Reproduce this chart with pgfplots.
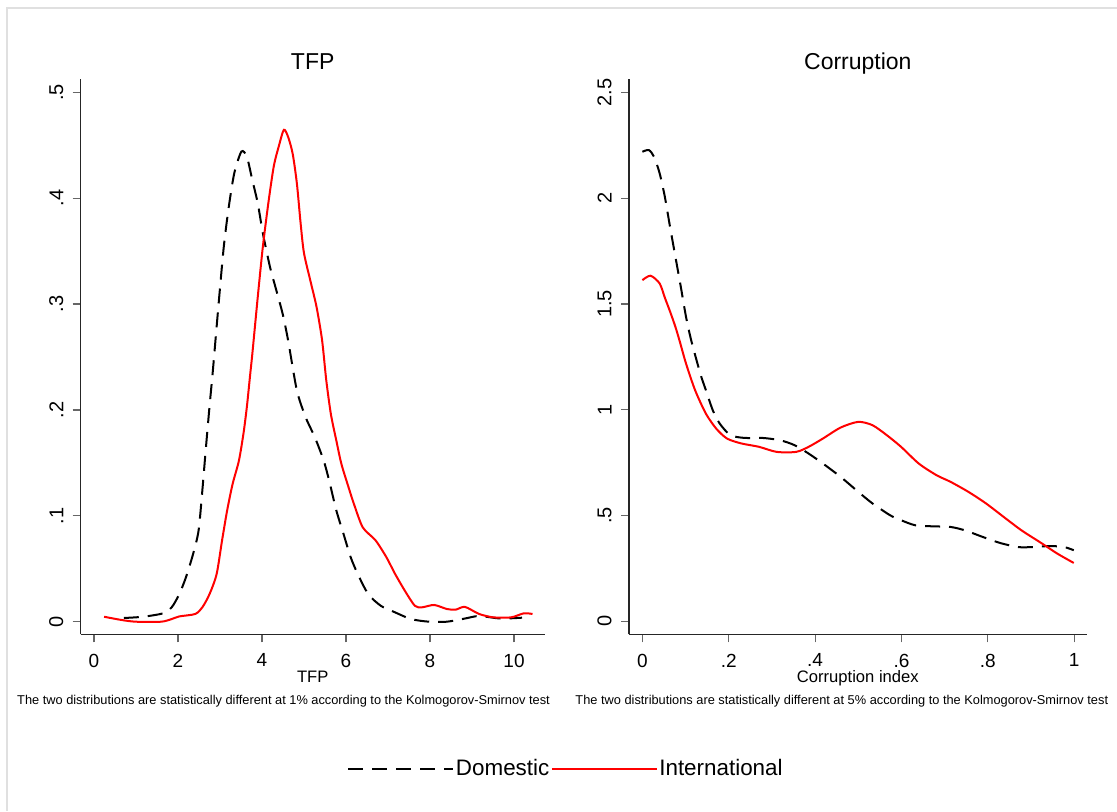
\documentclass[border=0pt]{standalone}
\usepackage{pgfplots}
\pgfplotsset{compat=1.18}
\usepackage{fontspec}
\setmainfont{Liberation Sans}

\pgfplotsset{
  statastyle/.style={
    scale only axis,
    axis lines*=left,
    axis line style={black!85, line width=0.8pt},
    tick align=outside,
    major tick length=4pt,
    tick style={black!60, line width=0.6pt},
    xtick pos=bottom, ytick pos=left,
    /pgf/number format/assume math mode=true,
    xticklabel style={font=\fontsize{9.5}{10}\selectfont, inner sep=0pt, anchor=north, yshift=-5.6pt},
    yticklabel style={font=\fontsize{10}{11}\selectfont, rotate=90, anchor=south, inner sep=4.5pt},
    every axis title shift=0pt,
    title style={font=\fontsize{11.5}{13}\selectfont, at={(axis description cs:0.5,1)}, anchor=base, yshift=4.85pt, inner sep=0pt},
    xlabel style={font=\fontsize{8.3}{10}\selectfont, at={(axis description cs:0.5,0)}, anchor=base, yshift=-24.2pt, inner sep=0pt},
    every axis plot/.append style={line width=1pt, smooth, tension=0.45},
  },
  domestic/.style={black, dash pattern=on 7.5pt off 4.5pt},
  international/.style={red},
}

\begin{document}
\begin{tikzpicture}
% 1 px of the reference = 0.5pt
\useasboundingbox (0pt,0pt) rectangle (558.5pt,405.5pt);
\draw[black!12, line width=0.6pt] (3.5pt,0pt) -- (3.5pt,401.5pt) -- (558.5pt,401.5pt);

% left panel: TFP
\begin{axis}[statastyle,
  at={(40.35pt,88.35pt)}, anchor=south west,
  width=232pt, height=277.65pt,
  xmin=-0.316, xmax=10.73, ymin=-0.0119, ymax=0.5125,
  xtick={0,2,4,6,8,10}, xticklabels={0,2,4,6,8,10},
  ytick={0,0.1,0.2,0.3,0.4,0.5}, yticklabels={0,.1,.2,.3,.4,.5},
  title={TFP}, xlabel={TFP},
  legend columns=2,
  legend style={at={(axis description cs:1.0448,-0.2426)}, anchor=center,
    draw=none, fill=none, inner sep=0pt,
    font=\fontsize{11.2}{13}\selectfont,
    nodes={inner sep=0.6pt},
    /tikz/every even column/.append style={column sep=0pt}},
  legend image code/.code={\draw[#1, line width=1.3pt] (0pt,0pt) -- (52.5pt,0pt);},
]
\addplot[domestic] coordinates {
(0.71,0.0035) (1.17,0.0047) (1.64,0.0079) (1.85,0.0136) (2.03,0.026) (2.19,0.042)
(2.36,0.064) (2.49,0.086) (2.58,0.124) (2.66,0.162) (2.75,0.203) (2.83,0.237)
(2.96,0.297) (3.09,0.354) (3.21,0.392) (3.34,0.4235) (3.51,0.444) (3.64,0.439)
(3.77,0.417) (3.9,0.395) (4.02,0.367) (4.19,0.335) (4.32,0.316) (4.49,0.291)
(4.62,0.266) (4.83,0.2185) (5.04,0.193) (5.26,0.174) (5.47,0.152) (5.6,0.133)
(5.77,0.105) (5.94,0.083) (6.11,0.061) (6.28,0.045) (6.53,0.026) (6.83,0.015)
(7.13,0.0095) (7.55,0.0025) (7.98,0.0) (8.4,0.0) (8.83,0.003) (9.17,0.0054)
(9.68,0.003) (10.19,0.0038)
};
\addlegendentry{Domestic}
\addplot[international] coordinates {
(0.24,0.0047) (0.66,0.0016) (1.0,0.0) (1.6,0.0) (1.85,0.0025) (2.03,0.005)
(2.41,0.0073) (2.58,0.0136) (2.75,0.026) (2.92,0.045) (3.05,0.077) (3.17,0.105)
(3.3,0.130) (3.45,0.152) (3.56,0.178) (3.64,0.203) (3.72,0.234) (3.77,0.253)
(3.9,0.307) (4.02,0.354) (4.15,0.395) (4.28,0.43) (4.4,0.449) (4.52,0.4645)
(4.62,0.458) (4.73,0.442) (4.83,0.414) (4.92,0.376) (5.0,0.348) (5.17,0.319)
(5.3,0.297) (5.43,0.266) (5.53,0.228) (5.64,0.196) (5.77,0.171) (5.89,0.149)
(6.06,0.127) (6.19,0.111) (6.4,0.089) (6.7,0.077) (6.96,0.061) (7.17,0.045)
(7.42,0.028) (7.64,0.015) (7.81,0.0136) (8.1,0.0158) (8.4,0.012) (8.61,0.0114)
(8.83,0.014) (9.17,0.0073) (9.51,0.0041) (9.93,0.0041) (10.23,0.0079) (10.44,0.0073)
};
\addlegendentry{International}
\end{axis}

% right panel: Corruption
\begin{axis}[statastyle,
  at={(314.5pt,88.35pt)}, anchor=south west,
  width=228.85pt, height=277.65pt,
  xmin=-0.031, xmax=1.029, ymin=-0.0615, ymax=2.564,
  xtick={0,0.2,0.4,0.6,0.8,1}, xticklabels={0,.2,.4,.6,.8,1},
  ytick={0,0.5,1,1.5,2,2.5}, yticklabels={0,.5,1,1.5,2,2.5},
  title={Corruption}, xlabel={Corruption index},
]
\addplot[domestic] coordinates {
(0,2.22) (0.015,2.228) (0.027,2.196) (0.04,2.118) (0.052,2.007) (0.064,1.865)
(0.0765,1.723) (0.089,1.581) (0.101,1.44) (0.113,1.329) (0.134,1.172) (0.147,1.093)
(0.163,0.998) (0.179,0.935) (0.204,0.88) (0.237,0.867) (0.278,0.867) (0.319,0.856)
(0.352,0.833) (0.385,0.793) (0.418,0.746) (0.459,0.683) (0.5,0.612) (0.533,0.557)
(0.574,0.501) (0.599,0.478) (0.632,0.454) (0.673,0.449) (0.714,0.446) (0.747,0.430)
(0.788,0.399) (0.829,0.370) (0.87,0.351) (0.903,0.351) (0.944,0.356) (0.977,0.351)
(0.999,0.336)
};
\addplot[international] coordinates {
(0,1.613) (0.019,1.634) (0.04,1.597) (0.052,1.53) (0.064,1.465) (0.0765,1.392)
(0.087,1.32) (0.101,1.219) (0.122,1.093) (0.147,0.982) (0.171,0.911) (0.196,0.864)
(0.229,0.841) (0.27,0.825) (0.311,0.801) (0.356,0.801) (0.385,0.825) (0.418,0.864)
(0.459,0.916) (0.5,0.943) (0.533,0.927) (0.566,0.88) (0.599,0.825) (0.64,0.746)
(0.681,0.691) (0.714,0.659) (0.755,0.612) (0.796,0.557) (0.837,0.493) (0.878,0.430)
(0.92,0.375) (0.961,0.320) (0.999,0.276)
};
\end{axis}

\node[anchor=base, inner sep=0pt, font=\fontsize{6.4}{7.5}\selectfont] at (141.75pt,53.5pt)
  {The two distributions are statistically different at 1\% according to the Kolmogorov-Smirnov test};
\node[anchor=base, inner sep=0pt, font=\fontsize{6.4}{7.5}\selectfont] at (420.9pt,53.5pt)
  {The two distributions are statistically different at 5\% according to the Kolmogorov-Smirnov test};
\end{tikzpicture}
\end{document}
